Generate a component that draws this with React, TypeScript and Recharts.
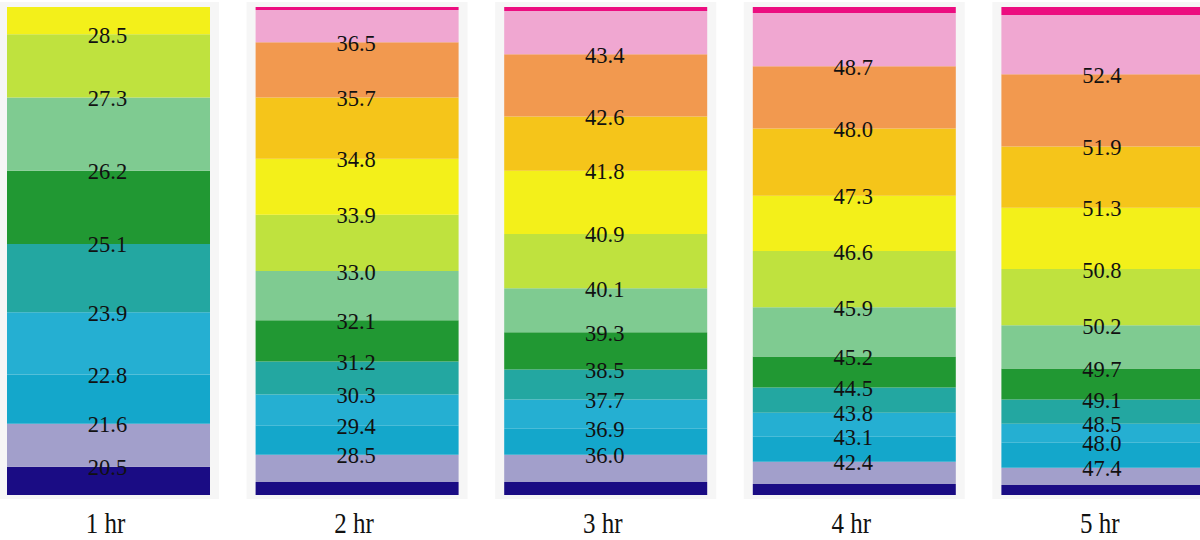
import { BarChart, Bar, XAxis, YAxis, LabelList } from "recharts";

const hours = ["1 hr", "2 hr", "3 hr", "4 hr", "5 hr"];

// temperature bands, listed bottom to top
const bandKeys = ["navy", "lavender", "blue", "sky", "teal", "green", "mint", "lime", "yellow", "gold", "orange", "pink", "magenta"];
const bandColors = ["#1a0c84", "#a29fcb", "#14a7cb", "#25afd2", "#23a7a1", "#219833", "#7fcb91", "#bfe23e", "#f3f01a", "#f5c51a", "#f2994f", "#f0a7d1", "#ec0d80"];

// band thickness (depth units) for each hour, bottom to top
const band1hr = [28, 43, 49, 62, 68, 73, 73, 63, 27, 0, 0, 0, 0];
const band2hr = [13, 27, 29, 31, 33, 41, 49, 56, 56, 61, 55, 32, 3];
const band3hr = [13, 27, 26, 29, 30, 37, 44, 54, 63, 54, 62, 43, 4];
const band4hr = [11, 22, 25, 24, 25, 31, 49, 56, 55, 67, 62, 53, 6];
const band5hr = [10, 17, 25, 19, 24, 31, 43, 56, 61, 61, 72, 59, 8];

// isotherm value written on the lower edge of each band
const iso1hr = ["", "20.5", "21.6", "22.8", "23.9", "25.1", "26.2", "27.3", "28.5", "", "", "", ""];
const iso2hr = ["", "", "28.5", "29.4", "30.3", "31.2", "32.1", "33.0", "33.9", "34.8", "35.7", "36.5", ""];
const iso3hr = ["", "", "36.0", "36.9", "37.7", "38.5", "39.3", "40.1", "40.9", "41.8", "42.6", "43.4", ""];
const iso4hr = ["", "", "42.4", "43.1", "43.8", "44.5", "45.2", "45.9", "46.6", "47.3", "48.0", "48.7", ""];
const iso5hr = ["", "", "47.4", "48.0", "48.5", "49.1", "49.7", "50.2", "50.8", "51.3", "51.9", "52.4", ""];

const bands = [band1hr, band2hr, band3hr, band4hr, band5hr];
const isos = [iso1hr, iso2hr, iso3hr, iso4hr, iso5hr];

const data = hours.map((hour, i) => {
  const row: Record<string, string | number> = { hour, frame: 1 };
  bandKeys.forEach((k, j) => {
    row[k] = bands[i][j];
    row[k + "Iso"] = isos[i][j];
  });
  return row;
});

const serif = '"Liberation Serif", "Times New Roman", serif';

const IsoLabel = (props: any) => {
  const vb = props.viewBox ?? props;
  const { value } = props;
  if (!value) return null;
  const x = vb.x + vb.width / 2 - 1;
  const y = vb.y + vb.height + 1;
  return (
    <text x={x} y={y} textAnchor="middle" dominantBaseline="central" fontFamily={serif} fontSize={22.5} fill="#111">
      {value}
    </text>
  );
};

// hour caption under each frame (source figure is a bit stretched vertically)
const HourLabel = (props: any) => {
  const vb = props.viewBox ?? props;
  const x = vb.x + vb.width / 2 - 3;
  const y = vb.y + vb.height + 24;
  return (
    <text
      transform={`translate(${x} ${y}) scale(1 1.15)`}
      textAnchor="middle"
      dominantBaseline="central"
      fontFamily={serif}
      fontSize={25}
      fill="#111"
    >
      {props.value}
    </text>
  );
};

export default function App() {
  return (
    <div style={{ position: "absolute", left: 0, top: 0, width: 1200, height: 540, overflow: "hidden", background: "#fff" }}>
      <div style={{ position: "absolute", left: -16, top: 0 }}>
        <BarChart width={1243} height={540} data={data} margin={{ top: 2, right: 0, bottom: 0, left: 0 }}>
          <XAxis xAxisId="f" dataKey="hour" hide />
          <YAxis yAxisId="f" hide type="number" domain={[0, 1]} />
          <XAxis xAxisId="m" dataKey="hour" height={41} axisLine={false} tickLine={false} tick={false} />
          <YAxis yAxisId="m" hide type="number" domain={[-4, 491]} allowDataOverflow />
          <Bar xAxisId="f" yAxisId="f" dataKey="frame" fill="#f6f6f6" barSize={221} isAnimationActive={false}>
            <LabelList dataKey="hour" content={HourLabel} />
          </Bar>
          {bandKeys.map((k, j) => (
            <Bar
              key={k}
              xAxisId="m"
              yAxisId="m"
              dataKey={k}
              stackId="t"
              fill={bandColors[j]}
              barSize={203}
              isAnimationActive={false}
            >
              <LabelList dataKey={k + "Iso"} content={IsoLabel} />
            </Bar>
          ))}
        </BarChart>
      </div>
    </div>
  );
}
